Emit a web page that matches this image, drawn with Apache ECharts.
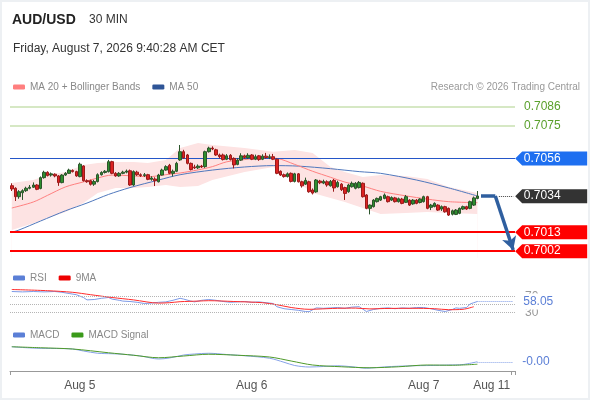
<!DOCTYPE html>
<html><head><meta charset="utf-8">
<script src="https://cdn.jsdelivr.net/npm/echarts@6/dist/echarts.min.js"></script>
<style>
html,body{margin:0;padding:0;background:#fff}
#c{width:590px;height:400px;position:absolute;left:0;top:0}
#f{position:absolute;left:0;top:0;width:590px;height:400px;box-sizing:border-box;border:2px solid #edf0f3;pointer-events:none}
</style>
</head><body><div id="c"></div><div id="f"></div>
<script>
// ---------- data ----------
const slotCount = 141;                       // 30-minute slots incl. forecast area
const xTickIndex = [19, 67, 115, 134];
const xTickLabels = ['Aug 5', 'Aug 6', 'Aug 7', 'Aug 11'];

// [open, close, low, high]
const candles = [
[0.70401,0.70382,0.70370,0.70415],[0.70386,0.70337,0.70312,0.70392],[0.70337,0.70366,0.70325,0.70375],[0.70360,0.70372,0.70318,0.70380],
[0.70372,0.70386,0.70365,0.70395],[0.70386,0.70392,0.70380,0.70405],[0.70392,0.70405,0.70388,0.70420],[0.70405,0.70380,0.70375,0.70410],
[0.70385,0.70448,0.70380,0.70455],[0.70448,0.70479,0.70442,0.70488],[0.70479,0.70460,0.70455,0.70485],[0.70463,0.70470,0.70454,0.70478],
[0.70468,0.70458,0.70450,0.70473],[0.70458,0.70419,0.70400,0.70463],[0.70419,0.70463,0.70415,0.70468],[0.70463,0.70473,0.70458,0.70480],
[0.70473,0.70492,0.70470,0.70500],[0.70490,0.70483,0.70478,0.70496],[0.70483,0.70458,0.70453,0.70488],[0.70454,0.70526,0.70450,0.70535],
[0.70516,0.70430,0.70425,0.70520],[0.70430,0.70424,0.70418,0.70438],[0.70430,0.70409,0.70402,0.70436],[0.70410,0.70425,0.70400,0.70435],
[0.70425,0.70465,0.70420,0.70473],[0.70465,0.70478,0.70460,0.70485],[0.70478,0.70485,0.70472,0.70492],[0.70483,0.70541,0.70478,0.70551],
[0.70541,0.70473,0.70468,0.70546],[0.70473,0.70458,0.70453,0.70480],[0.70458,0.70473,0.70453,0.70480],[0.70473,0.70480,0.70468,0.70488],
[0.70480,0.70486,0.70473,0.70495],[0.70488,0.70405,0.70400,0.70495],[0.70405,0.70483,0.70400,0.70490],[0.70480,0.70465,0.70458,0.70488],
[0.70465,0.70460,0.70452,0.70473],[0.70460,0.70465,0.70452,0.70475],[0.70465,0.70438,0.70433,0.70470],[0.70438,0.70446,0.70430,0.70456],
[0.70440,0.70430,0.70399,0.70450],[0.70424,0.70463,0.70420,0.70470],[0.70463,0.70492,0.70460,0.70500],[0.70492,0.70512,0.70488,0.70520],
[0.70520,0.70473,0.70468,0.70528],[0.70473,0.70485,0.70455,0.70495],[0.70485,0.70531,0.70480,0.70540],[0.70551,0.70599,0.70546,0.70638],
[0.70599,0.70563,0.70558,0.70610],[0.70580,0.70531,0.70525,0.70586],[0.70531,0.70495,0.70490,0.70536],[0.70510,0.70505,0.70498,0.70523],
[0.70505,0.70515,0.70498,0.70525],[0.70515,0.70510,0.70504,0.70522],[0.70512,0.70599,0.70505,0.70605],[0.70599,0.70620,0.70594,0.70628],
[0.70620,0.70615,0.70608,0.70630],[0.70610,0.70580,0.70575,0.70616],[0.70580,0.70570,0.70560,0.70588],[0.70580,0.70553,0.70548,0.70588],
[0.70555,0.70575,0.70550,0.70585],[0.70578,0.70553,0.70548,0.70585],[0.70560,0.70522,0.70502,0.70566],[0.70525,0.70550,0.70520,0.70560],
[0.70550,0.70575,0.70545,0.70590],[0.70575,0.70565,0.70558,0.70582],[0.70563,0.70578,0.70558,0.70590],[0.70580,0.70555,0.70550,0.70585],
[0.70555,0.70570,0.70550,0.70582],[0.70575,0.70553,0.70546,0.70580],[0.70555,0.70573,0.70550,0.70584],[0.70573,0.70565,0.70558,0.70592],
[0.70565,0.70570,0.70556,0.70583],[0.70570,0.70555,0.70550,0.70586],[0.70555,0.70473,0.70468,0.70560],[0.70485,0.70463,0.70458,0.70490],
[0.70465,0.70454,0.70448,0.70472],[0.70454,0.70470,0.70449,0.70478],[0.70473,0.70426,0.70420,0.70478],[0.70426,0.70470,0.70420,0.70476],
[0.70470,0.70424,0.70420,0.70475],[0.70424,0.70400,0.70390,0.70430],[0.70410,0.70432,0.70405,0.70448],[0.70424,0.70366,0.70360,0.70430],
[0.70376,0.70358,0.70350,0.70385],[0.70365,0.70434,0.70360,0.70440],[0.70428,0.70418,0.70410,0.70435],[0.70416,0.70426,0.70410,0.70436],
[0.70424,0.70405,0.70395,0.70432],[0.70400,0.70426,0.70396,0.70434],[0.70432,0.70388,0.70366,0.70440],[0.70395,0.70420,0.70390,0.70430],
[0.70410,0.70378,0.70370,0.70416],[0.70390,0.70356,0.70318,0.70395],[0.70366,0.70405,0.70360,0.70412],[0.70395,0.70415,0.70390,0.70425],
[0.70386,0.70415,0.70380,0.70422],[0.70390,0.70420,0.70385,0.70428],[0.70415,0.70337,0.70332,0.70420],[0.70347,0.70269,0.70264,0.70352],
[0.70269,0.70288,0.70234,0.70292],[0.70279,0.70317,0.70274,0.70323],[0.70308,0.70327,0.70303,0.70332],[0.70317,0.70337,0.70312,0.70342],
[0.70327,0.70347,0.70322,0.70356],[0.70337,0.70308,0.70303,0.70343],[0.70317,0.70332,0.70312,0.70339],[0.70330,0.70308,0.70303,0.70336],
[0.70308,0.70325,0.70303,0.70332],[0.70323,0.70298,0.70293,0.70330],[0.70304,0.70337,0.70300,0.70347],[0.70317,0.70288,0.70283,0.70322],
[0.70295,0.70317,0.70290,0.70323],[0.70317,0.70298,0.70293,0.70323],[0.70303,0.70323,0.70298,0.70328],[0.70308,0.70337,0.70303,0.70343],
[0.70337,0.70269,0.70264,0.70342],[0.70275,0.70288,0.70259,0.70295],[0.70280,0.70298,0.70275,0.70304],[0.70288,0.70259,0.70254,0.70293],
[0.70265,0.70279,0.70254,0.70286],[0.70279,0.70249,0.70244,0.70284],[0.70269,0.70230,0.70225,0.70274],[0.70235,0.70255,0.70228,0.70262],
[0.70234,0.70259,0.70230,0.70265],[0.70240,0.70269,0.70235,0.70274],[0.70265,0.70279,0.70260,0.70285],[0.70279,0.70265,0.70260,0.70284],
[0.70269,0.70308,0.70264,0.70314],[0.70288,0.70330,0.70283,0.70338],[0.70327,0.70341,0.70322,0.70370]
];

// [slot, value]
const ma20 = [[0,0.70271],[6,0.70306],[10,0.70345],[15,0.70394],[20,0.70423],[24,0.70446],[28,0.70463],[34,0.70458],[38,0.70453],
[43,0.70465],[47,0.70475],[52,0.70493],[56,0.70512],[60,0.70540],[65,0.70553],[70,0.70563],[74,0.70560],[79,0.70525],[84,0.70485],
[89,0.70450],[93,0.70422],[98,0.70399],[103,0.70368],[110,0.70342],[116,0.70323],[122,0.70308],[130,0.70302]];
const ma50 = [[0,0.70130],[2,0.70143],[8,0.70195],[15,0.70255],[21,0.70300],[27,0.70350],[33,0.70390],[41,0.70434],[47,0.70465],
[56,0.70492],[65,0.70510],[73,0.70518],[80,0.70515],[89,0.70500],[97,0.70483],[103,0.70473],[113,0.70434],[122,0.70388],[130,0.70341]];
const bbUpper = [[0,0.70417],[6,0.70434],[10,0.70463],[15,0.70481],[20,0.70522],[24,0.70533],[29,0.70539],[34,0.70539],[38,0.70533],
[43,0.70551],[47,0.70621],[52,0.70650],[56,0.70638],[65,0.70621],[73,0.70598],[79,0.70609],[84,0.70592],[89,0.70510],[93,0.70481],
[98,0.70452],[103,0.70463],[110,0.70458],[116,0.70440],[122,0.70393],[130,0.70358]];
const bbLower = [[0,0.70143],[6,0.70183],[10,0.70213],[15,0.70248],[20,0.70300],[24,0.70358],[29,0.70388],[34,0.70388],[38,0.70393],
[43,0.70405],[47,0.70393],[52,0.70399],[56,0.70434],[65,0.70481],[73,0.70510],[79,0.70434],[84,0.70358],[89,0.70329],[93,0.70306],
[98,0.70271],[103,0.70236],[110,0.70242],[116,0.70248],[122,0.70242],[130,0.70236]];

const resistanceLevels = [0.7086, 0.7075];
const pivotLevel = 0.7056;
const supportLevels = [0.7013, 0.7002];
const forecastPath = [[131, 0.70341], [135, 0.70341], [140, 0.70027]];

const rsi = [[0,83],[3,82],[6,83],[9,82],[12,83],[14,81],[16,78],[18,75],[20,68],[21,62],[23,63],[25,66],[27,68],[28,64],[30,61],
[31,59],[33,58],[35,56],[37,53],[39,54],[41,56],[43,57],[45,61],[47,66],[48,64],[50,59],[51,57],[53,61],[55,63],[57,61],[59,58],
[61,56],[63,57],[65,58],[67,56],[69,57],[71,55],[73,53],[74,45],[76,40],[78,38],[80,36],[82,33],[83,32.5],[85,42],[87,41],[89,42],
[91,43],[93,41],[95,44],[97,45],[99,33],[101,38],[103,41],[105,42],[107,40],[109,42],[111,41],[113,43],[115,43],[117,40],[119,36],
[121,33],[123,38],[124,42],[125,41],[127,43],[128,52],[129,55],[130,58.05]];
const rsiMA = [[0,88],[10,85],[17,81],[22,75],[28,68],[34,62],[41,54],[44,55],[47,57.5],[52,59],[55,60],[62,58],[70,55],[74,50],
[78,43],[83,38.5],[88,40],[91,41],[96,41.5],[100,39.5],[104,40.5],[112,41],[118,40],[122,37.5],[126,38.5],[129,45]];
const rsiLevels = [70, 50, 30];

const macd = [[0,0.00057],[3,0.00054],[7,0.00051],[12,0.00050],[17,0.00048],[20,0.00040],[24,0.00031],[28,0.00029],[31,0.00027],
[36,0.00020],[41,0.00008],[44,0.00012],[48,0.00024],[51,0.00028],[55,0.00031],[60,0.00026],[65,0.00021],[72,0.00011],[76,-0.00005],
[79,-0.00018],[83,-0.00024],[87,-0.00022],[91,-0.00019],[95,-0.00023],[99,-0.00029],[102,-0.00026],[106,-0.00022],[112,-0.00019],
[117,-0.00018],[122,-0.00016],[126,-0.00014],[130,-0.00003]];
const macdSignal = [[0,0.00057],[8,0.00053],[17,0.00048],[27,0.00033],[34,0.00023],[41,0.00013],[48,0.00020],[55,0.00027],[63,0.00023],
[72,0.00016],[78,0.00000],[84,-0.00016],[92,-0.00023],[100,-0.00027],[108,-0.00023],[116,-0.00016],[123,-0.00017],[130,-0.00013]];

// ---------- chart ----------
const FONT = 'Liberation Sans, Arial, sans-serif';
const slots = Array.from({length: slotCount}, (_, i) => String(i));
const lastIdx = candles.length - 1;
const lastClose = candles[lastIdx][1];
const lastRsi = rsi[rsi.length - 1];
const lastMacd = macd[macd.length - 1];
const endSlot = slotCount - 1;
const tagPath = 'path://M0,7L7,0L72,0L72,14L7,14Z';

function tag(v, color) {
  return {coord: [endSlot, v], value: v, itemStyle: {color: color}};
}
const noLabel = {show: false};

const chart = echarts.init(document.getElementById('c'), null, {renderer: 'canvas'});
const option = {
  animation: false,
  textStyle: {fontFamily: FONT},
  title: [
    {text: 'AUD/USD', left: 7, top: 8, textStyle: {fontSize: 14, fontWeight: 'bold', color: '#222', fontFamily: FONT}},
    {text: '30 MIN', left: 84, top: 9, textStyle: {fontSize: 12, fontWeight: 'normal', color: '#333', fontFamily: FONT}},
    {text: 'Friday, August 7, 2026 9:40:28 AM CET', left: 8, top: 38, textStyle: {fontSize: 12, fontWeight: 'normal', color: '#333', fontFamily: FONT}},
    {text: 'Research © 2026 Trading Central', right: 5, top: 77, textStyle: {fontSize: 10, fontWeight: 'normal', color: '#999', fontFamily: FONT}}
  ],
  legend: [
    {left: 8, top: 77, icon: 'roundRect', itemWidth: 12, itemHeight: 5, itemGap: 12,
     textStyle: {color: '#888', fontSize: 10, fontFamily: FONT},
     data: [{name: 'MA 20 + Bollinger Bands', itemStyle: {color: '#ff7f7f'}}, {name: 'MA 50', itemStyle: {color: '#2f5597'}}]},
    {left: 8, top: 268, icon: 'roundRect', itemWidth: 12, itemHeight: 5, itemGap: 12,
     textStyle: {color: '#888', fontSize: 10, fontFamily: FONT},
     data: [{name: 'RSI', itemStyle: {color: '#5b7fd6'}}, {name: '9MA', itemStyle: {color: '#ee0000'}}]},
    {left: 8, top: 325, icon: 'roundRect', itemWidth: 12, itemHeight: 5, itemGap: 12,
     textStyle: {color: '#888', fontSize: 10, fontFamily: FONT},
     data: [{name: 'MACD', itemStyle: {color: '#5b7fd6'}}, {name: 'MACD Signal', itemStyle: {color: '#3a9a1a'}}]}
  ],
  grid: [
    {left: 10, width: 505, top: 100, height: 158},
    {left: 10, width: 505, top: 284.7, height: 40},
    {left: 10, width: 505, top: 343.5, height: 27.5}
  ],
  xAxis: [
    {type: 'category', gridIndex: 0, data: slots, show: false, boundaryGap: true},
    {type: 'category', gridIndex: 1, data: slots, show: false, boundaryGap: true},
    {type: 'category', gridIndex: 2, data: slots, boundaryGap: true,
     axisLine: {onZero: false, lineStyle: {color: '#999', width: 1}},
     axisTick: {show: true, length: 4, lineStyle: {color: '#999'}, interval: (i) => i === 0 || i === endSlot},
     axisLabel: {color: '#555', fontSize: 12, margin: 9, fontFamily: FONT,
       interval: (i) => xTickIndex.indexOf(i) >= 0,
       formatter: (v) => { const k = xTickIndex.indexOf(Number(v)); return k >= 0 ? xTickLabels[k] : ''; }}}
  ],
  yAxis: [
    {type: 'value', gridIndex: 0, min: 0.6998, max: 0.7090, show: false, splitLine: {show: false}},
    {type: 'value', gridIndex: 1, min: 0, max: 100, show: false, splitLine: {show: false}},
    {type: 'value', gridIndex: 2, min: -0.0004, max: 0.0007, show: false, splitLine: {show: false}}
  ],
  series: [
    {name: 'bbU', type: 'line', z: 1, xAxisIndex: 0, yAxisIndex: 0, data: bbUpper, symbol: 'none', silent: true,
     lineStyle: {width: 0}, areaStyle: {color: '#fde3e3', opacity: 1}},
    {name: 'bbL', type: 'line', z: 1, xAxisIndex: 0, yAxisIndex: 0, data: bbLower, symbol: 'none', silent: true,
     lineStyle: {width: 0}, areaStyle: {color: '#ffffff', opacity: 1}},
    {name: 'MA 50', type: 'line', z: 3, xAxisIndex: 0, yAxisIndex: 0, data: ma50, symbol: 'none', smooth: 0.3,
     itemStyle: {color: '#2f5597'}, lineStyle: {color: '#5078bd', width: 1}},
    {name: 'MA 20 + Bollinger Bands', type: 'line', z: 3, xAxisIndex: 0, yAxisIndex: 0, data: ma20, symbol: 'none', smooth: 0.3,
     itemStyle: {color: '#ff7f7f'}, lineStyle: {color: '#ff8080', width: 1},
     markLine: {
       silent: true, symbol: ['none', 'none'], precision: 4,
       data: [
         ...resistanceLevels.map(v => ({yAxis: v, lineStyle: {color: '#c9e0b0', width: 1.5, type: 'solid'},
           label: {show: true, position: 'end', distance: 9, color: '#5aa02c', fontSize: 12, fontFamily: FONT, formatter: p => Number(p.value).toFixed(4)}})),
         {yAxis: pivotLevel, lineStyle: {color: '#2456c8', width: 1, type: 'solid'}, label: noLabel},
         ...supportLevels.map(v => ({yAxis: v, lineStyle: {color: '#ff0000', width: 2, type: 'solid'}, label: noLabel}))
       ]
     }},
    {name: 'price', type: 'candlestick', z: 5, xAxisIndex: 0, yAxisIndex: 0, data: candles, barWidth: 3,
     itemStyle: {color: '#2f8f2f', color0: '#dd2222', borderColor: '#2b552b', borderColor0: '#9a1a1a', borderWidth: 1},
     markLine: {
       silent: true, symbol: ['none', 'none'], precision: 5,
       data: [
         [{coord: [forecastPath[1][0] + 1, lastClose], lineStyle: {color: '#444', width: 1, type: 'dotted'}, label: noLabel}, {coord: [endSlot, lastClose]}],
         [{coord: forecastPath[0], lineStyle: {color: '#2f5f9f', width: 3.5, type: 'solid'}, label: noLabel}, {coord: forecastPath[1]}],
         [{coord: forecastPath[1], symbol: 'none', lineStyle: {color: '#2f5f9f', width: 3.5, type: 'solid'}, label: noLabel}, {coord: forecastPath[2], symbol: 'arrow', symbolSize: [11, 13]}]
       ]
     },
     markPoint: {
       silent: true, symbol: tagPath, symbolSize: [72, 14], symbolKeepAspect: false, symbolOffset: [38, 0],
       label: {show: true, position: 'inside', offset: [-9, 0], color: '#fff', fontSize: 12, fontFamily: FONT, formatter: p => Number(p.value).toFixed(4)},
       data: [tag(pivotLevel, '#1e6ff0'), tag(Number(lastClose.toFixed(4)), '#333333'), tag(supportLevels[0], '#ff0000'), tag(supportLevels[1], '#ff0000')]
     }},
    {name: 'RSI', type: 'line', xAxisIndex: 1, yAxisIndex: 1, data: rsi, symbol: 'none',
     itemStyle: {color: '#5b7fd6'}, lineStyle: {color: '#7d9ae6', width: 1},
     markLine: {
       silent: true, symbol: ['none', 'none'], precision: 2,
       data: [
         ...rsiLevels.map(v => ({yAxis: v, lineStyle: {color: '#b5b5b5', width: 1, type: 'dotted'},
           label: {show: v !== 50, position: 'end', distance: 10, color: '#999', fontSize: 12, fontFamily: FONT, formatter: p => String(p.value)}})),
         [{coord: [lastRsi[0], lastRsi[1]], lineStyle: {color: '#7d9ae6', width: 1, type: 'dotted'},
           label: {show: true, position: 'end', distance: 9, color: '#5b7fd6', fontSize: 12, fontFamily: FONT, backgroundColor: '#fff', padding: [2, 1],
                   formatter: () => lastRsi[1].toFixed(2)}},
          {coord: [endSlot, lastRsi[1]]}]
       ]
     }},
    {name: '9MA', type: 'line', xAxisIndex: 1, yAxisIndex: 1, data: rsiMA, symbol: 'none', smooth: 0.3,
     itemStyle: {color: '#ee0000'}, lineStyle: {color: '#ff2a2a', width: 1}},
    {name: 'MACD', type: 'line', xAxisIndex: 2, yAxisIndex: 2, data: macd, symbol: 'none', smooth: 0.3,
     itemStyle: {color: '#5b7fd6'}, lineStyle: {color: '#86a2e8', width: 1},
     markLine: {
       silent: true, symbol: ['none', 'none'], precision: 6,
       data: [
         [{coord: [lastMacd[0], lastMacd[1]], lineStyle: {color: '#86a2e8', width: 1, type: 'dotted'},
           label: {show: true, position: 'end', distance: 9, color: '#5b7fd6', fontSize: 12, fontFamily: FONT,
                   formatter: () => lastMacd[1].toFixed(2)}},
          {coord: [endSlot, lastMacd[1]]}]
       ]
     }},
    {name: 'MACD Signal', type: 'line', xAxisIndex: 2, yAxisIndex: 2, data: macdSignal, symbol: 'none', smooth: 0.3,
     itemStyle: {color: '#3a9a1a'}, lineStyle: {color: '#4f9a2a', width: 1}}
  ]
};
chart.setOption(option);
</script>
</body></html>
